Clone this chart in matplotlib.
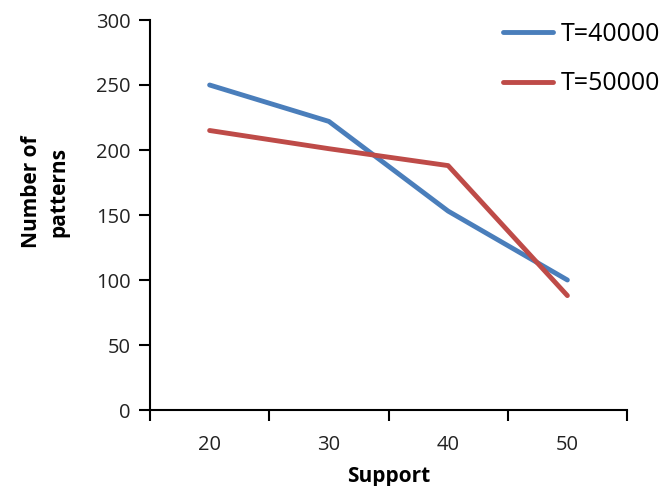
import matplotlib
matplotlib.use("Agg")
import matplotlib.pyplot as plt
from matplotlib.ticker import FixedLocator, NullFormatter

categories = ["20", "30", "40", "50"]
t40000 = [250, 222, 153, 100]
t50000 = [215, 201, 188, 88]
series_names = ["T=40000", "T=50000"]
yticks = [0, 50, 100, 150, 200, 250, 300]

plt.rcParams['font.family'] = ['Open Sans', 'DejaVu Sans']

fig = plt.figure(figsize=(6.67, 4.86), dpi=100)
ax = fig.add_axes([150/667, 1-410/486, (627-150)/667, (410-20)/486])

x = list(range(len(categories)))
ax.plot(x, t40000, color='#4a7ebb', lw=3.5, solid_capstyle='round', label=series_names[0])
ax.plot(x, t50000, color='#be4b48', lw=3.5, solid_capstyle='round', label=series_names[1])

ax.set_xlim(-0.5, len(categories) - 0.5)
ax.set_ylim(0, 300)
ax.set_yticks(yticks)
ax.set_yticklabels([str(v) for v in yticks])

# category axis: ticks between categories, labels centered
ax.xaxis.set_major_locator(FixedLocator([i - 0.5 for i in range(len(categories) + 1)]))
ax.xaxis.set_major_formatter(NullFormatter())
ax.xaxis.set_minor_locator(FixedLocator(x))
ax.set_xticklabels(categories, minor=True)
ax.tick_params(axis='x', which='minor', length=0, pad=18, labelsize=14.5, colors='#222222')
ax.tick_params(axis='x', which='major', length=8, width=1.5, direction='out')
ax.tick_params(axis='y', length=8, width=1.5, direction='out', labelsize=14.5, pad=6, labelcolor='#222222')

for s in ['top', 'right']:
    ax.spines[s].set_visible(False)
for s in ['left', 'bottom']:
    ax.spines[s].set_linewidth(1.5)

ax.set_xlabel("Support", fontsize=15, fontweight='bold', labelpad=8)
ax.set_ylabel("Number of\npatterns", fontsize=15, fontweight='bold', linespacing=1.35)
ax.yaxis.set_label_coords(-0.17, 0.56)

fig.legend(loc='upper left', bbox_to_anchor=(503/667, 1 - 22/486), frameon=False,
           fontsize=18, handlelength=2.0, labelspacing=0.98, handletextpad=0.32,
           borderaxespad=0, borderpad=0)

fig.savefig("out.png", dpi=100)
